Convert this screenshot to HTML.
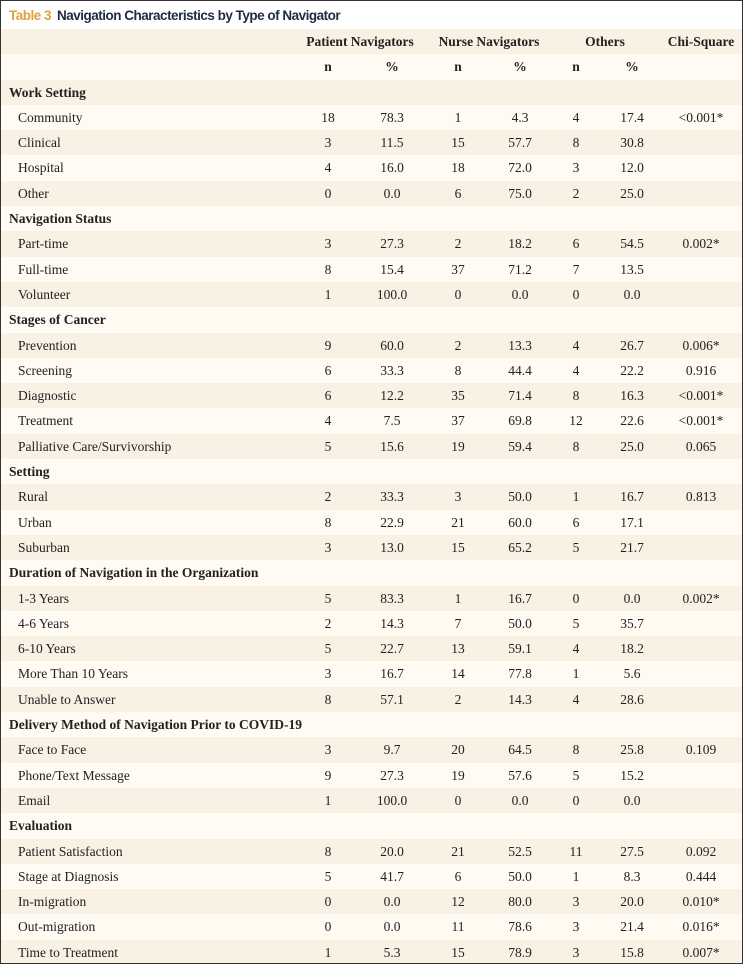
<!DOCTYPE html>
<html><head><meta charset="utf-8"><style>
body{margin:0;background:#fff;}
#w{position:relative;width:741px;height:962px;border:1px solid #333;overflow:hidden;font-family:"Liberation Serif",serif;font-size:13.5px;color:#222;}
#t{height:28px;line-height:30px;padding-left:8px;font-family:"Liberation Sans",sans-serif;font-size:13.5px;font-weight:bold;color:#1f2a44;letter-spacing:-0.5px;}
#t b{color:#e0a040;margin-right:6px;}
.r{position:relative;height:25.3px;line-height:25.3px;}
.d{background:#f8f1e4;}.l{background:#fffbf3;}
.r span{position:absolute;top:0;transform:translateX(-50%);white-space:nowrap;}
.lab{position:absolute;top:0;left:17px;}
.h .lab{left:8px;font-weight:bold;}
.hd span{font-weight:bold;}
</style></head><body><div id="w">
<div id="t"><b>Table 3</b>Navigation Characteristics by Type of Navigator</div>
<div id="rows"></div>
</div>
<script>
const data=`#Patient Navigators|Nurse Navigators|Others|Chi-Square
@n|%|n|%|n|%
!Work Setting
Community|18|78.3|1|4.3|4|17.4|<0.001*
Clinical|3|11.5|15|57.7|8|30.8|
Hospital|4|16.0|18|72.0|3|12.0|
Other|0|0.0|6|75.0|2|25.0|
!Navigation Status
Part-time|3|27.3|2|18.2|6|54.5|0.002*
Full-time|8|15.4|37|71.2|7|13.5|
Volunteer|1|100.0|0|0.0|0|0.0|
!Stages of Cancer
Prevention|9|60.0|2|13.3|4|26.7|0.006*
Screening|6|33.3|8|44.4|4|22.2|0.916
Diagnostic|6|12.2|35|71.4|8|16.3|<0.001*
Treatment|4|7.5|37|69.8|12|22.6|<0.001*
Palliative Care/Survivorship|5|15.6|19|59.4|8|25.0|0.065
!Setting
Rural|2|33.3|3|50.0|1|16.7|0.813
Urban|8|22.9|21|60.0|6|17.1|
Suburban|3|13.0|15|65.2|5|21.7|
!Duration of Navigation in the Organization
1-3 Years|5|83.3|1|16.7|0|0.0|0.002*
4-6 Years|2|14.3|7|50.0|5|35.7|
6-10 Years|5|22.7|13|59.1|4|18.2|
More Than 10 Years|3|16.7|14|77.8|1|5.6|
Unable to Answer|8|57.1|2|14.3|4|28.6|
!Delivery Method of Navigation Prior to COVID-19
Face to Face|3|9.7|20|64.5|8|25.8|0.109
Phone/Text Message|9|27.3|19|57.6|5|15.2|
Email|1|100.0|0|0.0|0|0.0|
!Evaluation
Patient Satisfaction|8|20.0|21|52.5|11|27.5|0.092
Stage at Diagnosis|5|41.7|6|50.0|1|8.3|0.444
In-migration|0|0.0|12|80.0|3|20.0|0.010*
Out-migration|0|0.0|11|78.6|3|21.4|0.016*
Time to Treatment|1|5.3|15|78.9|3|15.8|0.007*`.split("\n");
const X=[327,391,457,519,575,631,700];
const esc=s=>s.replace(/&/g,"&amp;").replace(/</g,"&lt;");
let h="";
data.forEach((line,i)=>{
 const c=i%2?"l":"d";
 if(line[0]=="#"){const p=line.slice(1).split("|");const xs=[359,488,604,700];
  h+=`<div class="r hd ${c}">`+p.map((t,j)=>`<span style="left:${xs[j]}px">${t}</span>`).join("")+"</div>";}
 else if(line[0]=="@"){const p=line.slice(1).split("|");
  h+=`<div class="r hd ${c}">`+p.map((t,j)=>`<span style="left:${X[j]}px">${t}</span>`).join("")+"</div>";}
 else if(line[0]=="!"){h+=`<div class="r h ${c}"><div class="lab">${esc(line.slice(1))}</div></div>`;}
 else{const p=line.split("|");
  h+=`<div class="r ${c}"><div class="lab">${esc(p[0])}</div>`+p.slice(1).map((t,j)=>`<span style="left:${X[j]}px">${esc(t)}</span>`).join("")+"</div>";}
});
document.getElementById("rows").innerHTML=h;
</script></body></html>
